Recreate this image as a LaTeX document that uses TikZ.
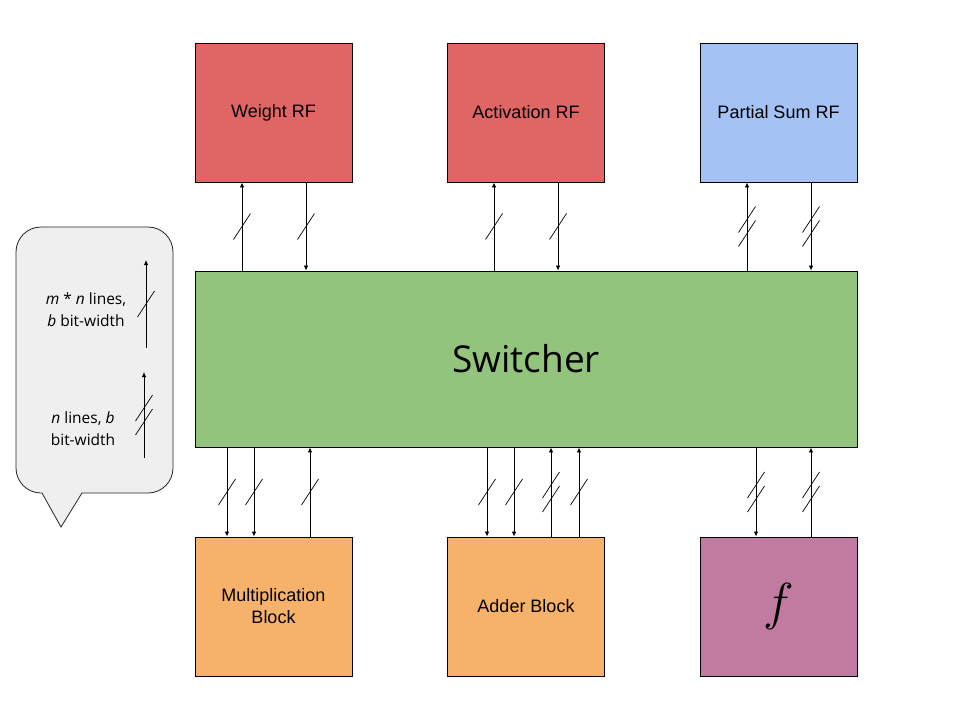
\RequirePackage{fix-cm}
\documentclass[tikz,border=0pt]{standalone}
\usepackage{fontspec}
\setmainfont{Liberation Sans}
\newfontfamily\opensans{Open Sans}
\usetikzlibrary{arrows.meta,decorations.markings}
\definecolor{rfred}{HTML}{E06666}
\definecolor{rfblue}{HTML}{A4C2F4}
\definecolor{swgreen}{HTML}{93C47D}
\definecolor{blkorange}{HTML}{F6B26B}
\definecolor{fnpurple}{HTML}{C27BA0}
\definecolor{notegray}{HTML}{EFEFEF}

\begin{document}
\begin{tikzpicture}[x=1pt, y=-1pt,
  blk/.style={draw=black, fill=#1, line width=0.9pt, inner sep=0pt,
              minimum width=157pt, minimum height=139pt, align=center,
              font=\fontsize{18}{22}\selectfont},
  bus/.style={-{Latex[length=5pt,width=4.5pt]}, line width=0.8pt},
  one/.style={bus, postaction={decorate, decoration={markings,
      mark=at position 0.5 with {\draw[-, line width=0.7pt] (-13pt,8.5pt) -- (13pt,-8.5pt);}}}},
  two/.style={bus, postaction={decorate, decoration={markings,
      mark=at position 0.5 with {\draw[-, line width=0.7pt] (-20pt,8.5pt) -- (6pt,-8.5pt);
                                 \draw[-, line width=0.7pt] (-6pt,8.5pt) -- (20pt,-8.5pt);}}}},
  callout/.style={draw=black!85, fill=notegray, line width=0.8pt},
  keytxt/.style={font=\opensans\fontsize{15.5}{22}\selectfont, align=center},
]
\useasboundingbox (0,0) rectangle (960,720);

%% ---- register files ----
\node[blk=rfred] (wrf) at (273.5,112.5) {Weight RF};
\node[blk=rfred] (arf) at (526,112.5) {Activation RF};
\node[blk=rfblue] (prf) at (778.5,112.5) {Partial Sum RF};

%% ---- switcher ----
\node[blk=swgreen, minimum width=662pt, minimum height=176pt,
      font=\opensans\fontsize{37}{37}\selectfont] (sw) at (526,359) {Switcher};

%% ---- compute blocks ----
\node[blk=blkorange] (mul) at (273.5,606.5) {Multiplication\\Block};
\node[blk=blkorange] (add) at (526,606.5) {Adder Block};
\node[blk=fnpurple] (fn) at (778.5,606.5) {\fontsize{52}{52}\selectfont$f$};

%% ---- buses: switcher <-> register files ----
\draw[one] (sw.north -| 242,0) -- (wrf.south -| 242,0);
\draw[one] (wrf.south -| 306,0) -- (sw.north -| 306,0);
\draw[one] (sw.north -| 494,0) -- (arf.south -| 494,0);
\draw[one] (arf.south -| 558,0) -- (sw.north -| 558,0);
\draw[two] (sw.north -| 747,0) -- (prf.south -| 747,0);
\draw[two] (prf.south -| 811,0) -- (sw.north -| 811,0);

%% ---- buses: switcher <-> compute blocks ----
\draw[one] (sw.south -| 227,0) -- (mul.north -| 227,0);
\draw[one] (sw.south -| 254,0) -- (mul.north -| 254,0);
\draw[one] (mul.north -| 310,0) -- (sw.south -| 310,0);
\draw[one] (sw.south -| 487,0) -- (add.north -| 487,0);
\draw[one] (sw.south -| 514,0) -- (add.north -| 514,0);
\draw[two] (add.north -| 551,0) -- (sw.south -| 551,0);
\draw[one] (add.north -| 579,0) -- (sw.south -| 579,0);
\draw[two] (sw.south -| 756,0) -- (fn.north -| 756,0);
\draw[two] (fn.north -| 811,0) -- (sw.south -| 811,0);

%% ---- legend ----
\draw[callout] (16,360) [rounded corners=25pt] -- (16,227) -- (173,227) -- (173,493)
  [sharp corners] -- (82,493) -- (61,527) -- (42,493)
  [rounded corners=25pt] -- (16,493) -- cycle;
\coordinate (k1a) at (146,348);
\coordinate (k1b) at (146,260);
\draw[one] (k1a) -- (k1b);
\node[keytxt] (k1t) at (86,310) {\textit{m} * \textit{n} lines,\\\textit{b} bit-width};
\coordinate (k2a) at (144,458);
\coordinate (k2b) at (144,372);
\draw[two] (k2a) -- (k2b);
\node[keytxt] (k2t) at (83,429) {\textit{n} lines, \textit{b}\\bit-width};

\end{tikzpicture}
\end{document}
